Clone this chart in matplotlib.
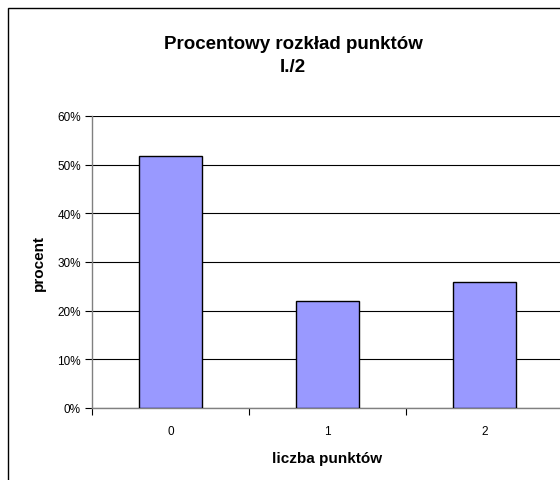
import matplotlib.pyplot as plt
from matplotlib.patches import Rectangle
from matplotlib.ticker import FixedLocator, PercentFormatter

plt.rcParams['font.family'] = ['Liberation Sans', 'DejaVu Sans']

categories = ['0', '1', '2']
percent = [51.8, 22.0, 25.8]
y_ticks = [0, 10, 20, 30, 40, 50, 60]

W, H = 560, 481
fig = plt.figure(figsize=(W / 100, H / 100), dpi=100)

# outer chart frame (right and bottom edges are cut off in the original)
fig.patches.append(Rectangle((8 / W, -0.1), 1.2, 1 - 9 / H + 0.1,
                             transform=fig.transFigure, fill=False,
                             edgecolor='black', linewidth=1.0))

ax = fig.add_axes([92 / W, 1 - 409 / H, 471 / W, 292 / H])
x = list(range(len(categories)))
ax.bar(x, percent, width=0.4, color='#9999FF', edgecolor='black',
       linewidth=1.0, zorder=3)

ax.set_xlim(-0.5, len(categories) - 0.5)
ax.set_ylim(0, 60)
ax.set_yticks(y_ticks)
ax.yaxis.set_major_formatter(PercentFormatter(decimals=0))
ax.set_xticks(x)
ax.set_xticklabels(categories)
ax.xaxis.set_minor_locator(FixedLocator([i - 0.5 for i in range(len(categories) + 1)]))
ax.tick_params(axis='x', which='major', length=0, pad=12, labelsize=8.5)
ax.tick_params(axis='x', which='minor', length=5, width=0.8, direction='out')
ax.tick_params(axis='y', length=5, width=0.8, direction='out', labelsize=8.5, pad=3)

ax.grid(axis='y', color='black', linewidth=0.8, zorder=0)
for side in ['top', 'right']:
    ax.spines[side].set_visible(False)
for side in ['left', 'bottom']:
    ax.spines[side].set_color('#808080')
    ax.spines[side].set_linewidth(1.0)

ax.set_ylabel('procent', fontsize=11, fontweight='bold', labelpad=8)
ax.set_xlabel('liczba punktów', fontsize=11, fontweight='bold', labelpad=10)

fig.text(293 / W, 1 - 56 / H, 'Procentowy rozkład punktów\nI./2', ha='center',
         va='center', fontsize=13.5, fontweight='bold', linespacing=1.4)

fig.savefig('out.png', dpi=100)
